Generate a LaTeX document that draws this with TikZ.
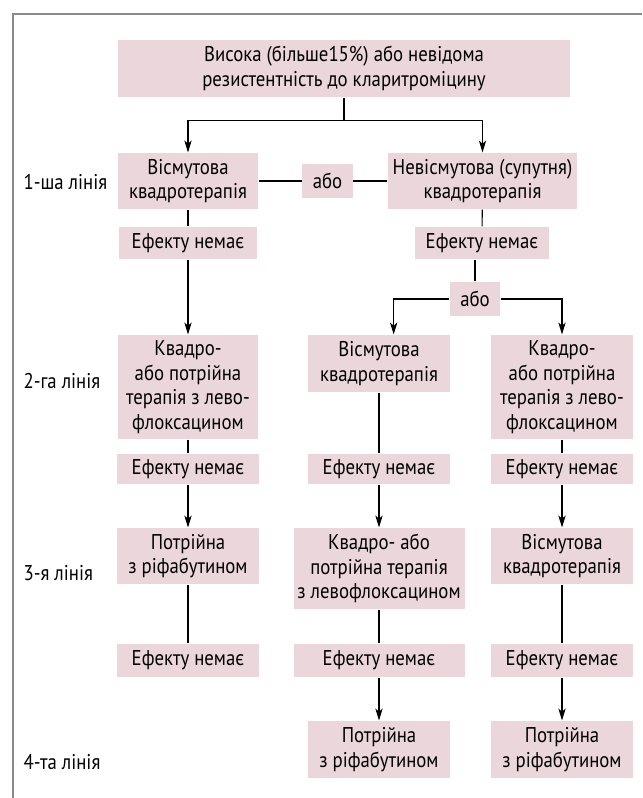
\documentclass[tikz,border=0pt]{standalone}
\usepackage{fontspec}
\setmainfont{PT Sans}[FakeStretch=0.88]
\usepackage{tikz}
\usetikzlibrary{arrows.meta}
\definecolor{boxpink}{HTML}{EBD7DB}
\definecolor{framegray}{HTML}{8A8A8A}

\begin{document}
\begin{tikzpicture}[x=0.75pt,y=-0.75pt,line width=0.8pt,
    box/.style={fill=boxpink,align=center,inner sep=0pt,font=\fontsize{16}{18.5}\selectfont},
    lbl/.style={anchor=west,inner sep=0pt,font=\fontsize{16}{18.5}\selectfont},
    arr/.style={-{Stealth[length=9pt,width=5.5pt,inset=2.5pt]}}]
        \useasboundingbox (0,0) rectangle (642,798);
        \draw[framegray,line width=1.5pt] (13,798) -- (13,14) -- (642,14);

        \node[box,minimum width=339pt,minimum height=42.75pt] (top) at (344,68.5)
         {Висока (більше15\%) або невідома\\резистентність до кларитроміцину};

        % 1-ша лінія
        \node[box,minimum width=105pt,minimum height=42pt] (r1l) at (188,181) {Вісмутова\\квадротерапія};
        \node[box,minimum width=38pt,minimum height=25pt] (or1) at (327.5,181) {або};
        \node[box,minimum width=142pt,minimum height=42pt] (r1r) at (482.5,181) {Невісмутова (супутня)\\квадротерапія};
        \node[box,minimum width=103pt,minimum height=24pt] (e1l) at (188,243) {Ефекту немає};
        \node[box,minimum width=101pt,minimum height=24pt] (e1r) at (482,243) {Ефекту немає};
        \node[box,minimum width=37.5pt,minimum height=25.5pt] (or2) at (475,299) {або};

        % 2-га лінія
        \node[box,minimum width=105pt,minimum height=78pt] (r2l) at (188,387) {Квадро-\\або потрійна\\терапія з лево-\\флоксацином};
        \node[box,minimum width=107pt,minimum height=42.75pt] (r2m) at (379,363.5) {Вісмутова\\квадротерапія};
        \node[box,minimum width=106.5pt,minimum height=78pt] (r2r) at (562,387) {Квадро-\\або потрійна\\терапія з лево-\\флоксацином};
        \node[box,minimum width=106.5pt,minimum height=23pt] (e2l) at (188,469) {Ефекту немає};
        \node[box,minimum width=106.5pt,minimum height=23pt] (e2m) at (379,469) {Ефекту немає};
        \node[box,minimum width=106.5pt,minimum height=23pt] (e2r) at (562,469) {Ефекту немає};

        % 3-я лінія
        \node[box,minimum width=106.5pt,minimum height=42pt] (r3l) at (188,556) {Потрійна\\з ріфабутином};
        \node[box,minimum width=128.25pt,minimum height=60.75pt] (r3m) at (379,568.5) {Квадро- або\\потрійна терапія\\з левофлоксацином};
        \node[box,minimum width=106.5pt,minimum height=42pt] (r3r) at (562,556) {Вісмутова\\квадротерапія};
        \node[box,minimum width=106.5pt,minimum height=24.75pt] (e3l) at (188,660.5) {Ефекту немає};
        \node[box,minimum width=128.25pt,minimum height=24.75pt] (e3m) at (379,660.5) {Ефекту немає};
        \node[box,minimum width=106.5pt,minimum height=24.75pt] (e3r) at (562,660.5) {Ефекту немає};

        % 4-та лінія
        \node[box,minimum width=107pt,minimum height=42.75pt] (r4m) at (379,749.5) {Потрійна\\з ріфабутином};
        \node[box,minimum width=106.5pt,minimum height=42.75pt] (r4r) at (562,749.5) {Потрійна\\з ріфабутином};

        \node[lbl] (l1) at (23,182) {1-ша лінія};
        \node[lbl] (l2) at (23,381) {2-га лінія};
        \node[lbl] (l3) at (23,573) {3-я лінія};
        \node[lbl] (l4) at (23,762) {4-та лінія};

        \draw[arr] (top.south) -- ++(0,23) -| (r1l.north);
        \draw[arr] (top.south) ++(0,23) -| (r1r.north);
        \draw (r1l) -- (or1) -- (r1r);
        \draw (r1l) -- (e1l);
        \draw[arr] (e1l) -- (r2l);
        \draw (r1r) -- (e1r);
        \draw (or2) -- (or2 |- e1r.south);
        \draw[arr] (or2.west) -| ([xshift=11pt]r2m.north);
        \draw[arr] (or2.east) -| (r2r.north);

        \draw (r2l) -- (e2l);
        \draw[arr] (e2l) -- (r3l);
        \draw (r3l) -- (e3l);
        \draw (r2m) -- (e2m);
        \draw[arr] (e2m) -- (r3m);
        \draw (r3m) -- (e3m);
        \draw[arr] (e3m) -- (r4m);
        \draw (r2r) -- (e2r);
        \draw[arr] (e2r) -- (r3r);
        \draw (r3r) -- (e3r);
        \draw[arr] (e3r) -- (r4r);
    \end{tikzpicture}
\end{document}
